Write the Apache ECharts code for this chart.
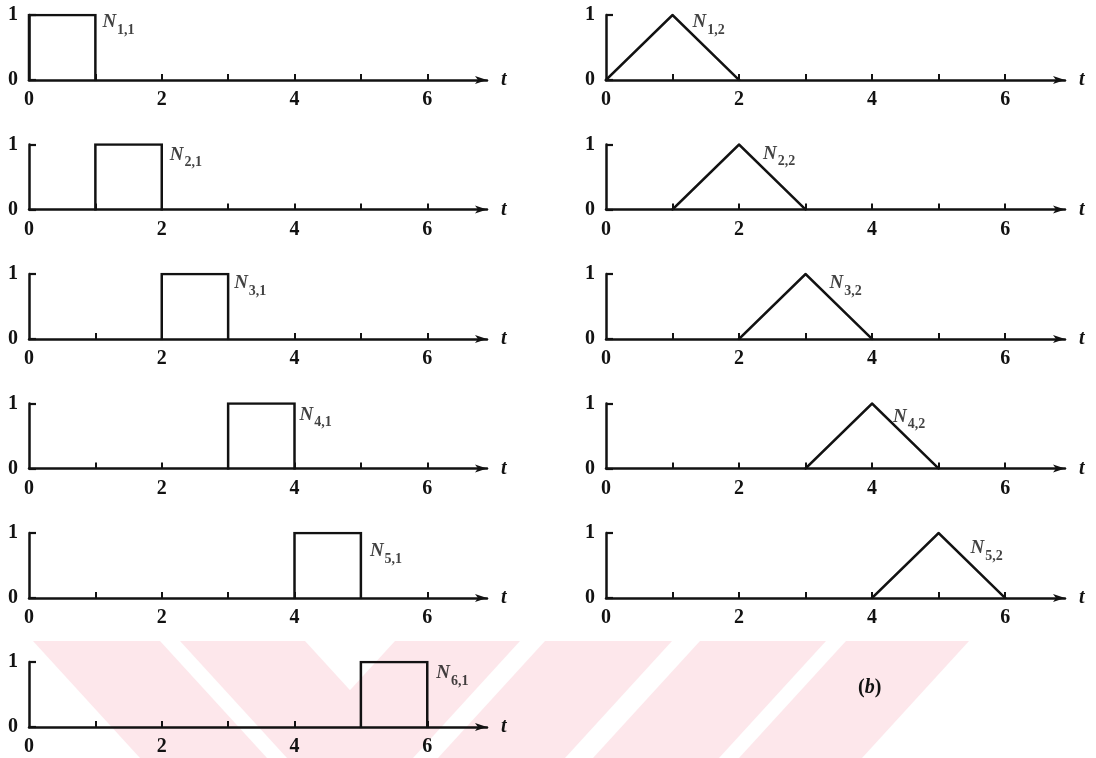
<!DOCTYPE html>
<html>
<head>
<meta charset="utf-8">
<script src="https://cdn.jsdelivr.net/npm/echarts@6/dist/echarts.min.js"></script>
<style>
  html, body { margin: 0; padding: 0; background: #ffffff; }
  #chart { width: 1096px; height: 758px; }
</style>
</head>
<body>
<div id="chart"></div>
<script>
// B-spline basis functions on unit knots 0..7
const tTicks = [1, 2, 3, 4, 5, 6];
const tLabels = [0, 2, 4, 6];

// First-order basis N_{i,1}: unit boxes
const order1Names = ['1,1', '2,1', '3,1', '4,1', '5,1', '6,1'];
const order1Data = [
  [[0, 0], [0, 1], [1, 1], [1, 0]],
  [[1, 0], [1, 1], [2, 1], [2, 0]],
  [[2, 0], [2, 1], [3, 1], [3, 0]],
  [[3, 0], [3, 1], [4, 1], [4, 0]],
  [[4, 0], [4, 1], [5, 1], [5, 0]],
  [[5, 0], [5, 1], [6, 1], [6, 0]]
];

// Second-order basis N_{i,2}: hats
const order2Names = ['1,2', '2,2', '3,2', '4,2', '5,2'];
const order2Data = [
  [[0, 0], [1, 1], [2, 0]],
  [[1, 0], [2, 1], [3, 0]],
  [[2, 0], [3, 1], [4, 0]],
  [[3, 0], [4, 1], [5, 0]],
  [[4, 0], [5, 1], [6, 0]]
];

const caption = '(b)';

// ---- layout and styling ----
const FONT = "'Liberation Serif', 'DejaVu Serif', serif";
const INK = '#121212';
const TINT = '#fde7eb';
const colX = [29, 606];
const colW = [458, 459];
const plotH = 65;
const rowBase = [80, 209.5, 339, 468.5, 598, 727];
// label offsets (px) from the anchor point of each curve
const order1LabelOff = [[7, -2], [8, 1], [6, 0], [5, 2], [9, 9], [9, 2]];
const order2LabelOff = [[20, -2], [24, 0], [24, 0], [21, 4], [32, 6]];

const grids = [], xAxes = [], yAxes = [], series = [];

function addPanel(col, row, data, anchor, name, off) {
  const gi = grids.length;
  grids.push({
    left: colX[col], top: rowBase[row] - plotH, width: colW[col], height: plotH,
    containLabel: false
  });
  xAxes.push({
    gridIndex: gi, type: 'value', min: 0, max: 6.9, interval: 1,
    axisLine: { show: true, onZero: false, symbol: ['none', 'arrow'], symbolSize: [6, 12],
      lineStyle: { color: INK, width: 2.5 } },
    axisTick: { show: true, inside: true, length: 6, customValues: tTicks,
      lineStyle: { color: INK, width: 2 } },
    axisLabel: { show: true, customValues: tLabels, margin: 10, color: INK,
      fontFamily: FONT, fontWeight: 'bold', fontSize: 20 },
    splitLine: { show: false },
    name: 't', nameLocation: 'end', nameGap: 14,
    nameTextStyle: { fontFamily: FONT, fontStyle: 'italic', fontWeight: 'bold',
      fontSize: 20, color: INK, verticalAlign: 'middle' }
  });
  yAxes.push({
    gridIndex: gi, type: 'value', min: 0, max: 1, interval: 1,
    axisLine: { show: true, onZero: false, lineStyle: { color: INK, width: 2.5 } },
    axisTick: { show: true, inside: true, length: 7, lineStyle: { color: INK, width: 2.2 } },
    axisLabel: { show: true, margin: 11, color: INK,
      fontFamily: FONT, fontWeight: 'bold', fontSize: 20 },
    splitLine: { show: false }
  });
  series.push({
    type: 'line', xAxisIndex: gi, yAxisIndex: gi, data: data,
    symbol: 'none', silent: true, animation: false,
    lineStyle: { color: INK, width: 2.5, cap: 'square', join: 'miter' }
  });
  series.push({
    type: 'scatter', xAxisIndex: gi, yAxisIndex: gi, data: [anchor],
    symbolSize: 0, silent: true, animation: false,
    itemStyle: { color: 'transparent' },
    label: {
      show: true, position: off, align: 'left', verticalAlign: 'top',
      formatter: '{n|N}{s|' + name + '}',
      rich: {
        n: { fontFamily: FONT, fontStyle: 'italic', fontWeight: 'bold', fontSize: 19,
          lineHeight: 19, verticalAlign: 'top', color: INK },
        s: { fontFamily: FONT, fontWeight: 'bold', fontSize: 14, lineHeight: 14,
          padding: [10, 0, 0, 1], verticalAlign: 'top', color: INK }
      }
    }
  });
}

order1Data.forEach((d, i) => addPanel(0, i, d, d[2], order1Names[i], order1LabelOff[i]));
order2Data.forEach((d, i) => addPanel(1, i, d, d[1], order2Names[i], order2LabelOff[i]));

// faint diagonal print bands across the bottom strip of the page
const bandTop = 641, bandBottom = 758, skew = 107;
const backBands = [[33, 160], [180, 305]];          // leaning down-right
const fwdBands = [[395, 520], [545, 672], [700, 826], [846, 969]]; // leaning down-left
const tintShapes = [];
backBands.forEach(([a, b]) => tintShapes.push([[a, bandTop], [b, bandTop], [b + skew, bandBottom], [a + skew, bandBottom]]));
fwdBands.forEach(([a, b]) => tintShapes.push([[a, bandTop], [b, bandTop], [b - skew, bandBottom], [a - skew, bandBottom]]));

const graphics = tintShapes.map(pts => ({
  type: 'polygon', silent: true, z: -10,
  shape: { points: pts },
  style: { fill: TINT, stroke: null }
}));
graphics.push({
  type: 'text', left: 858, top: 678, silent: true, z: 10,
  style: {
    text: '{p|(}{b|b}{p|)}',
    rich: {
      p: { fontFamily: FONT, fontWeight: 'bold', fontSize: 20, fill: INK },
      b: { fontFamily: FONT, fontStyle: 'italic', fontWeight: 'bold', fontSize: 20, fill: INK }
    }
  }
});

const chart = echarts.init(document.getElementById('chart'), null, { renderer: 'canvas' });
chart.setOption({
  backgroundColor: '#ffffff',
  animation: false,
  grid: grids,
  xAxis: xAxes,
  yAxis: yAxes,
  series: series,
  graphic: graphics
});
</script>
</body>
</html>
